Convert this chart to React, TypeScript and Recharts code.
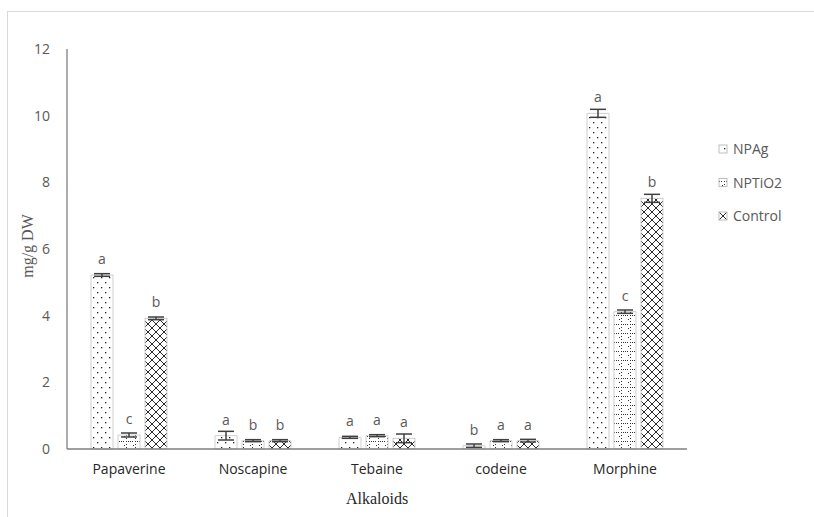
import React from 'react';
import { BarChart, Bar, XAxis, YAxis, ErrorBar, LabelList } from 'recharts';

const categories = ['Papaverine', 'Noscapine', 'Tebaine', 'codeine', 'Morphine'];
const npag = [5.22, 0.4, 0.35, 0.1, 10.07];
const nptio2 = [0.42, 0.25, 0.4, 0.25, 4.12];
const control = [3.92, 0.25, 0.32, 0.25, 7.52];
const npagErr = [0.04, 0.13, 0.03, 0.05, 0.12];
const nptio2Err = [0.06, 0.03, 0.03, 0.03, 0.05];
const controlErr = [0.04, 0.03, 0.13, 0.04, 0.12];
const npagLetters = ['a', 'a', 'a', 'b', 'a'];
const nptio2Letters = ['c', 'b', 'a', 'a', 'c'];
const controlLetters = ['b', 'b', 'a', 'a', 'b'];
const yTicks = [0, 2, 4, 6, 8, 10, 12];
const seriesNames = ['NPAg', 'NPTiO2', 'Control'];

const data = categories.map((c, i) => ({
  name: c,
  NPAg: npag[i],
  NPTiO2: nptio2[i],
  Control: control[i],
  npagErr: npagErr[i],
  nptio2Err: nptio2Err[i],
  controlErr: controlErr[i],
  npagL: npagLetters[i],
  nptio2L: nptio2Letters[i],
  controlL: controlLetters[i],
}));

const GRAY = '#595959';
const FONT = '"Open Sans", "Noto Sans", sans-serif';
const SERIF = '"Liberation Serif", "DejaVu Serif", serif';

const Patterns = ({ p }: { p: string }) => (
  <defs>
    <pattern id={p + 'dots'} width="8" height="10" patternUnits="userSpaceOnUse">
      <rect width="8" height="10" fill="#fff" />
      <rect x="1" y="2" width="1.3" height="1.3" fill="#222" />
      <rect x="5" y="7" width="1.3" height="1.3" fill="#222" />
    </pattern>
    <pattern id={p + 'grid'} width="9" height="9" patternUnits="userSpaceOnUse">
      <rect width="9" height="9" fill="#fff" />
      <rect x="0" y="0" width="1" height="1" fill="#333" />
      <rect x="2" y="0" width="1" height="1" fill="#333" />
      <rect x="4" y="0" width="1" height="1" fill="#333" />
      <rect x="6" y="0" width="1" height="1" fill="#333" />
      <rect x="0" y="3" width="1" height="1" fill="#333" />
      <rect x="0" y="6" width="1" height="1" fill="#333" />
      <rect x="7" y="4" width="1" height="1" fill="#333" />
    </pattern>
    <pattern id={p + 'diam'} width="8" height="8" patternUnits="userSpaceOnUse">
      <rect width="8" height="8" fill="#fff" />
      <path d="M0,0 L8,8 M8,0 L0,8" stroke="#111" strokeWidth="0.9" />
    </pattern>
  </defs>
);

const letterLabel = (props: any) => {
  const { x, y, width, value } = props;
  return (
    <text x={x + width / 2} y={y - 11} textAnchor="middle" fill={GRAY} fontSize={14} fontFamily={FONT}>
      {value}
    </text>
  );
};

const LegendBox = () => {
  const fills = ['Ldots', 'Lgrid', 'Ldiam'];
  return (
    <svg width={100} height={100} style={{ position: 'absolute', left: 715, top: 136, overflow: 'visible' }}>
      <Patterns p="L" />
      {seriesNames.map((n, i) => (
        <g key={n}>
          <rect x={4} y={i * 33.5 + 9} width={8} height={8} fill={`url(#${fills[i]})`} stroke="#bfbfbf" strokeWidth={1} />
          <text x={18} y={i * 33.5 + 18} fill={GRAY} fontSize={14} fontFamily={FONT}>{n}</text>
        </g>
      ))}
    </svg>
  );
};

const yLabel = (props: any) => {
  const vb = props.viewBox || {};
  const cx = 27;
  const cy = vb.y + vb.height / 2 - 3;
  return (
    <text x={cx} y={cy} transform={`rotate(-90, ${cx}, ${cy})`} textAnchor="middle" dominantBaseline="central"
      fill={GRAY} fontSize={16} fontFamily={SERIF}>
      mg/g DW
    </text>
  );
};

export default function App() {
  return (
    <div style={{ position: 'absolute', left: 0, top: 0, width: 814, height: 517, overflow: 'hidden', background: '#fff' }}>
      <div style={{ position: 'absolute', left: 7, top: 11, width: 900, height: 600, border: '1.5px solid #d9d9d9' }} />
      <div style={{ position: 'absolute', left: 0, top: 0 }}>
        <BarChart width={814} height={517} data={data} margin={{ top: 49, right: 127, bottom: 0, left: 17 }}
          barSize={22} barGap={5}>
          <Patterns p="C" />
          <XAxis dataKey="name" height={68} axisLine={{ stroke: '#7f7f7f', strokeWidth: 1.3 }} tickLine={false}
            tickSize={0} tickMargin={15}
            tick={{ fill: '#262626', fontSize: 14, fontFamily: FONT }}
            label={{ value: 'Alkaloids', position: 'insideBottom', offset: 13, fill: '#262626', fontSize: 16,
              fontFamily: SERIF }} />
          <YAxis width={50} domain={[0, 12]} ticks={yTicks} interval={0} axisLine={{ stroke: '#7f7f7f', strokeWidth: 1.3 }}
            tickLine={false} tickSize={8} tickMargin={9}
            tick={{ fill: GRAY, fontSize: 14, fontFamily: FONT }} label={yLabel} />
          <Bar dataKey="NPAg" fill="url(#Cdots)" stroke="#cfcfcf" strokeWidth={1} isAnimationActive={false}>
            <ErrorBar dataKey="npagErr" width={8} stroke="#404040" strokeWidth={1.5} />
            <LabelList dataKey="npagL" content={letterLabel} />
          </Bar>
          <Bar dataKey="NPTiO2" fill="url(#Cgrid)" stroke="#cfcfcf" strokeWidth={1} isAnimationActive={false}>
            <ErrorBar dataKey="nptio2Err" width={8} stroke="#404040" strokeWidth={1.5} />
            <LabelList dataKey="nptio2L" content={letterLabel} />
          </Bar>
          <Bar dataKey="Control" fill="url(#Cdiam)" stroke="#cfcfcf" strokeWidth={1} isAnimationActive={false}>
            <ErrorBar dataKey="controlErr" width={8} stroke="#404040" strokeWidth={1.5} />
            <LabelList dataKey="controlL" content={letterLabel} />
          </Bar>
        </BarChart>
      </div>
      <LegendBox />
    </div>
  );
}
